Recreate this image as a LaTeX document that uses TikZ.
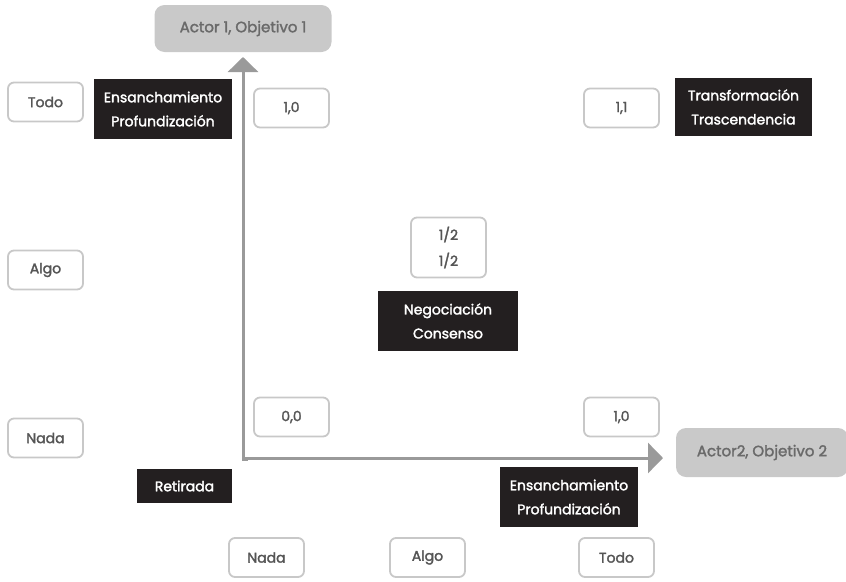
\documentclass[tikz,border=0pt]{standalone}
\usepackage{fontspec}
\setmainfont{Poppins}
\newfontfamily\medfont{Poppins}[FakeBold=2]
\usetikzlibrary{arrows.meta}
\definecolor{boxline}{HTML}{C8C8C8}
\definecolor{txtgray}{HTML}{555555}
\definecolor{axisgray}{HTML}{9A9A9A}
\definecolor{actorfill}{HTML}{C9C9C9}
\definecolor{actortxt}{HTML}{6A6A6A}
\definecolor{darkfill}{HTML}{231F20}
\tikzset{
  valbox/.style={draw=boxline, line width=1.8pt, rounded corners=6pt, fill=white,
    minimum width=75pt, minimum height=39pt, text=txtgray, font=\medfont\fontsize{14}{26}\selectfont, align=center, inner sep=0pt},
  darkbox/.style={fill=darkfill, text=white, font=\medfont\fontsize{14}{24}\selectfont, align=center, inner sep=0pt},
  actorbox/.style={fill=actorfill, rounded corners=10pt, text=actortxt, font=\medfont\fontsize{15}{18}\selectfont, inner sep=0pt},
  axis/.style={draw=axisgray, line width=3pt, -{Triangle[length=15pt,width=30pt]}}
}
\begin{document}
\begin{tikzpicture}[x=1pt,y=-1pt]
\useasboundingbox (0,0) rectangle (846,581);
% actors
\node[actorbox, minimum width=177pt, minimum height=47pt] (a1) at (243,28.5) {Actor 1, Objetivo 1};
\node[actorbox, minimum width=172pt, minimum height=49pt] (a2) at (762,452.5) {Actor2, Objetivo 2};
% axes
\coordinate (o) at (243,458);
\coordinate (ytip) at (243,57);
\coordinate (xtip) at (663,458);
\draw[axis] (o) -- (ytip);
\draw[axis] (o) -- (xtip);
\draw[draw=axisgray, line width=3pt, line cap=rect] (243,456) -- (243,459.5) -- (246,459.5);
% left scale
\node[valbox] (lt) at (45.5,102) {Todo};
\node[valbox] (la) at (45.5,270) {Algo};
\node[valbox] (ln) at (45.5,438) {Nada};
% bottom scale
\node[valbox] (bn) at (266.5,557.5) {Nada};
\node[valbox] (ba) at (427.5,557.5) {Algo};
\node[valbox] (bt) at (616.5,557.5) {Todo};
% values
\node[valbox] (v10a) at (291.5,108) {1,0};
\node[valbox] (v11) at (621.5,108) {1,1};
\node[valbox, minimum height=60pt] (vhh) at (448.5,247.5) {1/2\\1/2};
\node[valbox] (v00) at (291.5,417) {0,0};
\node[valbox] (v10b) at (621.5,417) {1,0};
% dark labels
\node[darkbox, minimum width=138pt, minimum height=60pt] (d1) at (163,109) {Ensanchamiento\\Profundización};
\node[darkbox, minimum width=137pt, minimum height=58pt] (d2) at (743.5,107) {Transformación\\Trascendencia};
\node[darkbox, minimum width=140pt, minimum height=60pt] (d3) at (448,321) {Negociación\\Consenso};
\node[darkbox, minimum width=95pt, minimum height=34pt] (d4) at (184.5,486) {Retirada};
\node[darkbox, minimum width=138pt, minimum height=60pt] (d5) at (569,497) {Ensanchamiento\\Profundización};
\end{tikzpicture}
\end{document}
